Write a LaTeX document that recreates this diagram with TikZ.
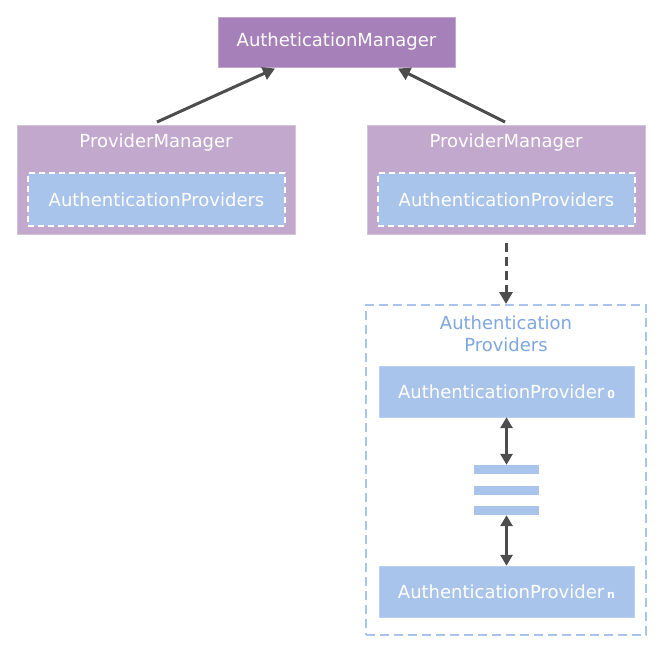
\documentclass[tikz,border=0pt]{standalone}
\usepackage{fontspec}
\setmainfont{DejaVu Sans}
\usetikzlibrary{arrows.meta,positioning}
\definecolor{amgr}{HTML}{A680B8}
\definecolor{pmgr}{HTML}{C3A8CD}
\definecolor{pmline}{HTML}{D5C2DD}
\definecolor{apblue}{HTML}{A9C4EB}
\definecolor{aptext}{HTML}{7EA6E0}
\definecolor{arr}{HTML}{4D4D4D}
\tikzset{
  txt/.style={font=\fontsize{18}{21}\selectfont},
  mgrbox/.style={fill=amgr, draw=amgr!70!white, text=white, txt, minimum width=237pt, minimum height=50pt, inner sep=0pt},
  pmbox/.style={fill=pmgr, draw=pmline, minimum width=278pt, minimum height=109pt, inner sep=0pt},
  pmtitle/.style={text=white, txt, inner sep=0pt},
  apsbox/.style={fill=apblue, draw=white, line width=1.6pt, dash pattern=on 6pt off 4pt, text=white, txt, minimum width=257pt, minimum height=53pt, inner sep=0pt},
  apbox/.style={fill=apblue, draw=apblue!80!white, text=white, txt, minimum width=255pt, minimum height=51pt, inner sep=0pt},
  container/.style={draw=apblue, line width=2pt, dash pattern=on 9pt off 5pt, minimum width=280pt, minimum height=330pt, inner sep=0pt},
  bar/.style={fill=apblue, minimum width=65pt, minimum height=9pt, inner sep=0pt},
  conn/.style={draw=arr, line width=3pt, -{Triangle[length=12pt,width=13pt]}},
  dconn/.style={draw=arr, line width=3pt, {Triangle[length=11pt,width=12pt]}-{Triangle[length=11pt,width=12pt]}},
}
\begin{document}
\begin{tikzpicture}[x=1pt,y=-1pt]
\useasboundingbox (0,0) rectangle (663,653);
% Authentication manager
\node[mgrbox] (am) at (336.5,42) {AutheticationManager};
% Provider managers
\node[pmbox] (pml) at (156,179.5) {};
\node[pmtitle] (pmlt) at (156,142.5) {ProviderManager};
\node[apsbox] (apsl) at (156.5,199.5) {AuthenticationProviders};
\node[pmbox] (pmr) at (506,179.5) {};
\node[pmtitle] (pmrt) at (506,142.5) {ProviderManager};
\node[apsbox] (apsr) at (506.5,199.5) {AuthenticationProviders};
% container
\node[container] (cont) at (506,470) {};
\node[text=aptext, align=center, font=\fontsize{18}{22}\selectfont] (contt) at (506,334) {Authentication\\Providers};
\node[apbox] (ap0) at (506.5,391.5) {AuthenticationProvider\,{\fontsize{11}{12}\selectfont\bfseries 0}};
\node[apbox] (apn) at (506.5,591.5) {AuthenticationProvider\,{\fontsize{11}{12}\selectfont\bfseries n}};
\node[bar] (b1) at (506.5,469.5) {};
\node[bar] (b2) at (506.5,490) {};
\node[bar] (b3) at (506.5,510.5) {};
% connectors
\coordinate (lstart) at (157,122);
\coordinate (rstart) at (505,122);
\draw[conn] (lstart) -- (275,68.5);
\draw[conn] (rstart) -- (398,68.5);
\coordinate (dstart) at (506,243);
\draw[conn, dash pattern=on 9pt off 5pt] (dstart) -- (cont.north -| dstart);
\draw[dconn] (ap0.south) -- (b1.north);
\draw[dconn] (b3.south) -- (apn.north);
\end{tikzpicture}
\end{document}
